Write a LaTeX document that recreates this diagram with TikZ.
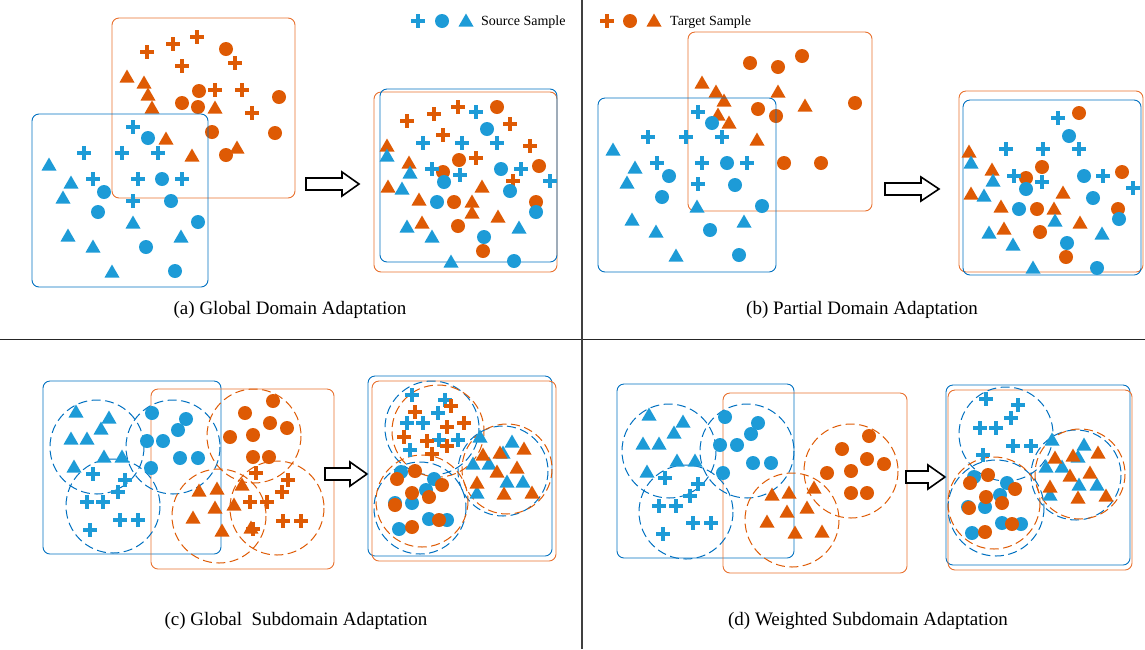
\documentclass[tikz,border=0pt]{standalone}
\usepackage{fontspec}
\setmainfont{Liberation Serif}
\definecolor{bm}{RGB}{29,155,215}
\definecolor{bl}{RGB}{0,112,192}
\definecolor{om}{RGB}{222,90,4}
\definecolor{ol}{RGB}{232,112,45}
\newcommand\mkP[3]{\fill[#1] (#2-7,#3-2.2) rectangle (#2+7,#3+2.2); \fill[#1] (#2-2.2,#3-7) rectangle (#2+2.2,#3+7);}
\newcommand\mkC[3]{\fill[#1] (#2,#3) circle[radius=7];}
\newcommand\mkT[3]{\fill[#1] (#2,#3-7.5) -- (#2+7.5,#3+5.5) -- (#2-7.5,#3+5.5) -- cycle;}
\newcommand\mkA[4]{\draw[harrow] (#1,#4-6) -- (#2,#4-6) -- (#2,#4-12) -- (#3,#4) -- (#2,#4+12) -- (#2,#4+6) -- (#1,#4+6) -- cycle;}
\begin{document}
\begin{tikzpicture}[x=1pt,y=-1pt,
  bbox/.style={draw=bl,line width=0.9pt,rounded corners=7pt},
  obox/.style={draw=ol,line width=0.9pt,rounded corners=7pt},
  bdash/.style={draw=bl,line width=1pt,dash pattern=on 9pt off 4.5pt},
  odash/.style={draw=om,line width=1pt,dash pattern=on 9pt off 4.5pt},
  harrow/.style={draw=black,fill=white,line width=1.6pt,line join=miter},
  captxt/.style={font=\fontsize{19}{21}\selectfont,inner sep=0pt},
  legtxt/.style={font=\fontsize{14}{16}\selectfont,inner sep=0pt,anchor=west}]
\useasboundingbox (0,0) rectangle (1145,649);
% separators
\draw[line width=1pt,black!85] (0,339.5) -- (1145,339.5);
\draw[line width=1.2pt,black!75] (582,0) -- (582,649);
% legend
\mkP{bm}{418}{21} \mkC{bm}{442}{21} \mkT{bm}{466}{21}
\node[legtxt] (srcleg) at (481,22) {Source Sample};
\mkP{om}{607}{21} \mkC{om}{630}{21} \mkT{om}{654}{21}
\node[legtxt] (tgtleg) at (670,22) {Target Sample};
% ===== (a) left =====
\draw[obox] (112,18) rectangle (295,198);
\foreach \x/\y in {147/52,173/44,197/37,235/63,182/66,215/90,242/90,252/113} {\mkP{om}{\x}{\y}}
\foreach \x/\y in {226/49,199/91,182/103,198/107,279/97,212/132,275/133,226/155} {\mkC{om}{\x}{\y}}
\foreach \x/\y in {127/77,144/83,148/95,152/108,215/108,166/139,192/156,237/148} {\mkT{om}{\x}{\y}}
\draw[bbox] (32,114) rectangle (208,287);
\foreach \x/\y in {133/127,84/153,122/153,158/153,93/179,138/179,182/179,133/201} {\mkP{bm}{\x}{\y}}
\foreach \x/\y in {148/138,162/179,104/192,171/201,98/212,198/222,146/247,175/271} {\mkC{bm}{\x}{\y}}
\foreach \x/\y in {49/165,71/183,63/198,133/223,68/236,93/247,181/237,112/272} {\mkT{bm}{\x}{\y}}
\mkA{306}{342}{359}{184}
% ===== (a) right =====
\draw[obox] (374,92) rectangle (557,272);
\draw[bbox] (380,89) rectangle (557,262);
\foreach \x/\y in {407/121,434/114,458/107,510/124,443/135,530/146,476/158,513/181} {\mkP{om}{\x}{\y}}
\foreach \x/\y in {497/107,459/160,443/172,539/166,454/202,536/202,458/226,483/251} {\mkC{om}{\x}{\y}}
\foreach \x/\y in {387/146,409/163,388/187,419/200,482/187,472/202,472/213,498/217,422/223} {\mkT{om}{\x}{\y}}
\foreach \x/\y in {476/112,423/143,462/143,497/143,432/169,460/175,521/169,550/181} {\mkP{bm}{\x}{\y}}
\foreach \x/\y in {487/129,444/182,501/169,510/191,437/202,536/212,484/237,514/261} {\mkC{bm}{\x}{\y}}
\foreach \x/\y in {387/156,410/173,402/189,407/227,432/237,519/228,451/262} {\mkT{bm}{\x}{\y}}
\node[captxt] (capa) at (290,310) {(a) Global Domain Adaptation};
% ===== (b) left =====
\draw[obox] (688,32) rectangle (872,211);
\foreach \x/\y in {750/63,778/67,802/56,855/103,758/109,776/116,784/163,821/163} {\mkC{om}{\x}{\y}}
\foreach \x/\y in {702/83,716/92,724/101,778/92,805/106,718/115,729/123,757/140} {\mkT{om}{\x}{\y}}
\draw[bbox] (598,98) rectangle (776,272);
\foreach \x/\y in {698/112,648/137,686/137,722/137,657/163,702/163,747/163,698/184} {\mkP{bm}{\x}{\y}}
\foreach \x/\y in {712/123,727/163,669/176,735/185,662/197,762/206,710/230,739/255} {\mkC{bm}{\x}{\y}}
\foreach \x/\y in {613/150,635/168,627/183,697/207,632/220,656/232,744/222,676/256} {\mkT{bm}{\x}{\y}}
\mkA{885}{921}{939}{189}
% ===== (b) right =====
\draw[obox] (959,91) rectangle (1143,272);
\draw[bbox] (963,100) rectangle (1141,275);
\foreach \x/\y in {1079/113,1042/167,1026/178,1122/172,1037/209,1118/209,1040/232,1066/257} {\mkC{om}{\x}{\y}}
\foreach \x/\y in {969/152,992/170,971/194,1001/207,1063/193,1054/209,1080/223,1004/229} {\mkT{om}{\x}{\y}}
\foreach \x/\y in {1058/118,1006/149,1043/149,1079/149,1014/176,1042/182,1103/176,1133/188} {\mkP{bm}{\x}{\y}}
\foreach \x/\y in {1069/136,1026/189,1084/176,1093/198,1019/209,1119/219,1067/243,1097/268} {\mkC{bm}{\x}{\y}}
\foreach \x/\y in {971/163,993/181,984/196,1055/221,989/233,1013/245,1102/234,1033/268} {\mkT{bm}{\x}{\y}}
\node[captxt] (capb) at (862,310) {(b) Partial Domain Adaptation};
% ===== (c) left =====
\draw[bbox] (43,381) rectangle (221,554);
\draw[obox] (151,389) rectangle (334,569);
\foreach \x/\y in {97/447,173/447,113/506} {\draw[bdash] (\x,\y) circle[radius=47];}
\foreach \x/\y in {254/436,219/516,277/508} {\draw[odash] (\x,\y) circle[radius=47];}
\foreach \x/\y in {76/412,109/418,101/429,71/439,87/439,104/457,122/457,74/467} {\mkT{bm}{\x}{\y}}
\foreach \x/\y in {152/413,186/419,178/430,147/441,163/441,180/458,198/458,151/468} {\mkC{bm}{\x}{\y}}
\foreach \x/\y in {93/474,125/480,118/492,87/502,103/502,120/520,138/520,90/530} {\mkP{bm}{\x}{\y}}
\foreach \x/\y in {273/401,245/413,270/423,287/428,230/437,253/435,253/457,269/457} {\mkC{om}{\x}{\y}}
\foreach \x/\y in {199/491,217/489,242/485,215/508,234/505,193/518,222/531,251/528} {\mkT{om}{\x}{\y}}
\foreach \x/\y in {256/473,288/480,282/492,250/502,267/502,283/521,301/521,253/529} {\mkP{om}{\x}{\y}}
\mkA{325}{350}{367}{474}
% ===== (c) right =====
\draw[bbox] (368,376) rectangle (552,556);
\draw[obox] (372,381) rectangle (556,561);
\draw[bdash] (432,428) circle[radius=47]; \draw[odash] (438,431) circle[radius=46];
\draw[bdash] (503,471) circle[radius=45]; \draw[odash] (507,469) circle[radius=45];
\draw[bdash] (420,508) circle[radius=46]; \draw[odash] (422,501) circle[radius=46];
\foreach \x/\y in {412/395,445/400,438/413,407/423,423/423,439/440,458/440,410/450} {\mkP{bm}{\x}{\y}}
\foreach \x/\y in {415/412,451/406,464/423,447/427,404/437,427/441,447/446,432/454} {\mkP{om}{\x}{\y}}
\foreach \x/\y in {480/437,512/442,503/453,473/464,489/464,507/482,523/482,477/493} {\mkT{bm}{\x}{\y}}
\foreach \x/\y in {483/455,500/453,524/449,497/472,517/468,477/483,504/494,532/493} {\mkT{om}{\x}{\y}}
\foreach \x/\y in {401/472,434/479,426/490,395/503,412/503,429/519,447/520,399/529} {\mkC{bm}{\x}{\y}}
\foreach \x/\y in {415/471,397/479,442/485,412/493,429/497,395/505,439/520,412/527} {\mkC{om}{\x}{\y}}
\node[captxt] (capc) at (296,621) {(c) Global\ \ Subdomain Adaptation};
% ===== (d) left =====
\draw[bbox] (617,384) rectangle (794,558);
\draw[obox] (723,393) rectangle (907,573);
\foreach \x/\y in {669/451,747/451,686/512} {\draw[bdash] (\x,\y) circle[radius=47];}
\foreach \x/\y in {851/471,792/520} {\draw[odash] (\x,\y) circle[radius=47];}
\foreach \x/\y in {649/415,683/422,674/433,643/444,659/444,677/461,695/461,647/472} {\mkT{bm}{\x}{\y}}
\foreach \x/\y in {725/417,758/423,751/434,720/445,737/445,753/463,771/463,723/473} {\mkC{bm}{\x}{\y}}
\foreach \x/\y in {665/478,698/484,690/496,659/506,676/506,693/523,711/523,663/534} {\mkP{bm}{\x}{\y}}
\foreach \x/\y in {869/436,842/449,867/459,884/464,827/473,851/471,851/493,867/493} {\mkC{om}{\x}{\y}}
\foreach \x/\y in {772/495,789/493,814/488,787/512,807/508,767/522,795/533,822/532} {\mkT{om}{\x}{\y}}
\mkA{906}{928}{945}{477}
% ===== (d) right =====
\draw[bbox] (946,385) rectangle (1130,565);
\draw[obox] (948,390) rectangle (1132,570);
\draw[bdash] (1006,434) circle[radius=47];
\draw[bdash] (1076,475) circle[radius=45]; \draw[odash] (1080,474) circle[radius=45];
\draw[bdash] (996,508) circle[radius=48]; \draw[odash] (994,503) circle[radius=46];
\foreach \x/\y in {986/399,1018/405,1011/418,980/428,996/428,1013/446,1031/446,983/455} {\mkP{bm}{\x}{\y}}
\foreach \x/\y in {1052/440,1084/445,1078/457,1046/467,1062/467,1079/485,1097/485,1050/495} {\mkT{bm}{\x}{\y}}
\foreach \x/\y in {1055/458,1073/456,1098/453,1070/476,1090/473,1050/487,1078/498,1106/496} {\mkT{om}{\x}{\y}}
\foreach \x/\y in {974/477,1007/483,1000/495,968/507,985/507,1002/523,1021/524,972/533} {\mkC{bm}{\x}{\y}}
\foreach \x/\y in {988/475,970/483,1015/489,986/497,1002/503,969/508,1012/524,985/532} {\mkC{om}{\x}{\y}}
\node[captxt] (capd) at (868,621) {(d) Weighted Subdomain Adaptation};
\end{tikzpicture}
\end{document}
